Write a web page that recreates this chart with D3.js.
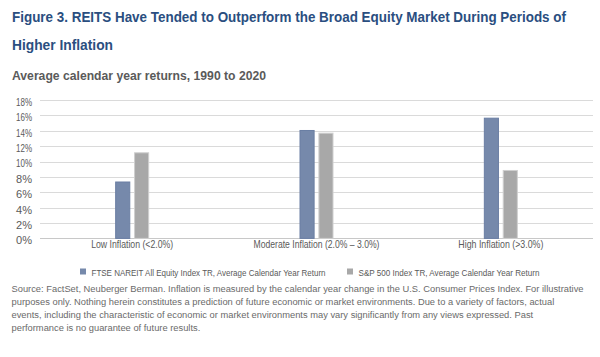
<!DOCTYPE html>
<html>
<head>
<meta charset="utf-8">
<script src="https://cdn.jsdelivr.net/npm/d3@7"></script>
<style>
  html, body { margin: 0; padding: 0; background: #fff; }
  svg { display: block; }
  text { font-family: "Liberation Sans Narrow", "Liberation Sans", Arial, sans-serif; }
</style>
</head>
<body>
<svg id="chart" width="600" height="357"></svg>
<script>
// ---- Data ----
const categories = ["Low Inflation (<2.0%)", "Moderate Inflation (2.0% \u2013 3.0%)", "High Inflation (>3.0%)"];
const seriesNames = ["FTSE NAREIT All Equity Index TR, Average Calendar Year Return", "S&P 500 Index TR, Average Calendar Year Return"];
const reitValues = [7.4, 14.1, 15.7];
const spValues = [11.2, 13.75, 8.9];
const yTicks = [0, 2, 4, 6, 8, 10, 12, 14, 16, 18];
const titleLines = ["Figure 3. REITS Have Tended to Outperform the Broad Equity Market During Periods of", "Higher Inflation"];
const subtitle = "Average calendar year returns, 1990 to 2020";
const footnoteLines = [
  "Source: FactSet, Neuberger Berman. Inflation is measured by the calendar year change in the U.S. Consumer Prices Index. For illustrative",
  "purposes only. Nothing herein constitutes a prediction of future economic or market environments. Due to a variety of factors, actual",
  "events, including the characteristic of economic or market environments may vary significantly from any views expressed. Past",
  "performance is no guarantee of future results."
];

const colors = ["#7689ab", "#a8a8a8"];
const strokes = ["#6a7ea3", "#cfcfcf"];

const svg = d3.select("#chart");

// Keep the desired font size unless the natural width would exceed maxW;
// then squeeze the glyphs to the target width w (condensed look).
function fitText(sel, fs, w, maxW) {
  sel.each(function() {
    const t = d3.select(this).attr("font-size", fs);
    let n = this.getComputedTextLength();
    if (maxW && n > maxW) {
      const f = fs * maxW / n;
      t.attr("font-size", f.toFixed(2));
      n = this.getComputedTextLength();
    }
    if (Math.abs(n - w) > 0.5) t.attr("textLength", w).attr("lengthAdjust", "spacingAndGlyphs");
  });
}

// ---- Title ----
const titleY = [22, 50];
const titleW = [554, 101];
const titleTexts = titleLines.map((t, i) => svg.append("text").attr("x", 12).attr("y", titleY[i])
  .attr("font-weight", "bold").attr("fill", "#2a4e80").text(t));
titleTexts[0].call(fitText, 16, titleW[0], 584);
const titleFs = +titleTexts[0].attr("font-size");
titleTexts[1].call(fitText, titleFs, titleW[1]);

svg.append("text").attr("x", 12).attr("y", 80)
  .attr("font-weight", "bold").attr("fill", "#5a5a5a")
  .text(subtitle).call(fitText, 13.5, 254);

// ---- Scales ----
const x = d3.scaleBand().domain(categories).range([40, 593]).padding(0);
const y = d3.scaleLinear().domain([0, 18]).range([238.4, 100]);
const xs = d3.scaleBand().domain([0, 1]).range([0, 34]).paddingInner(0.2);

// gridlines
svg.append("g").selectAll("line").data(yTicks).join("line")
  .attr("x1", 40).attr("x2", 593)
  .attr("y1", d => Math.round(y(d)) + 0.5).attr("y2", d => Math.round(y(d)) + 0.5)
  .attr("stroke", d => d === 0 ? "#c8c8c8" : "#dadada").attr("stroke-width", 1);

// y axis labels
const yAxis = d3.axisLeft(y).tickValues(yTicks).tickFormat(d => d + "%").tickSize(0).tickPadding(0);
const yg = svg.append("g").attr("transform", "translate(32,2)").call(yAxis);
yg.select(".domain").remove();
yg.selectAll("text").attr("font-size", 10.5).attr("fill", "#5a5a5a")
  .attr("font-family", "'Liberation Sans Narrow', 'Liberation Sans', sans-serif")
  .call(fitText, 10.5, 16);

// x axis labels
const xAxis = d3.axisBottom(x).tickSize(0).tickPadding(0);
const xg = svg.append("g").attr("transform", "translate(0,241)").call(xAxis);
xg.select(".domain").remove();
const catW = [82, 126, 85];
xg.selectAll("text").attr("fill", "#5a5a5a")
  .attr("font-family", "'Liberation Sans Narrow', 'Liberation Sans', sans-serif")
  .each(function(d, i) { d3.select(this).call(fitText, 10.5, catW[i]); });

// bars
const rows = categories.map((c, i) => ({ c, v: [reitValues[i], spValues[i]] }));
const groups = svg.append("g").selectAll("g").data(rows).join("g")
  .attr("transform", d => `translate(${x(d.c) + x.bandwidth() / 2 - 17},0)`);
groups.selectAll("rect").data(d => d.v.map((v, k) => ({ v, k }))).join("rect")
  .attr("x", d => xs(d.k) + 0.5)
  .attr("width", xs.bandwidth() - 1)
  .attr("y", d => y(d.v) + 0.5)
  .attr("height", d => y(0) - y(d.v) - 0.5)
  .attr("fill", d => colors[d.k])
  .attr("stroke", d => strokes[d.k]).attr("stroke-width", 1);

// legend
const legX = [80, 347];
const legW = [234, 181];
const legTexts = seriesNames.map((s, i) => {
  svg.append("rect").attr("x", legX[i]).attr("y", 268.5).attr("width", 6).attr("height", 6)
    .attr("fill", colors[i]);
  return svg.append("text").attr("x", legX[i] + 11.5).attr("y", 275.5)
    .attr("fill", "#5a5a5a").text(s);
});
legTexts[0].call(fitText, 10.5, legW[0], 250);
legTexts[1].call(fitText, +legTexts[0].attr("font-size"), legW[1]);

// footnote
const fnY = [291.5, 304.8, 318.1, 331.4];
const fnW = [572, null, null, null];
const fnTexts = footnoteLines.map((t, i) => svg.append("text").attr("x", 11.5).attr("y", fnY[i])
  .attr("fill", "#6a6a6a").text(t));
// first line sets size and squeeze ratio; others follow with the same ratio
fnTexts[0].attr("font-size", 11.5);
let n0 = fnTexts[0].node().getComputedTextLength();
let fnFs = 11.5;
if (n0 > 584) { fnFs = 11.5 * 584 / n0; fnTexts[0].attr("font-size", fnFs); n0 = fnTexts[0].node().getComputedTextLength(); }
const ratio = 572 / n0;
fnTexts.forEach(t => {
  t.attr("font-size", fnFs);
  const n = t.node().getComputedTextLength();
  t.attr("textLength", n * ratio).attr("lengthAdjust", "spacingAndGlyphs");
});
</script>
</body>
</html>
